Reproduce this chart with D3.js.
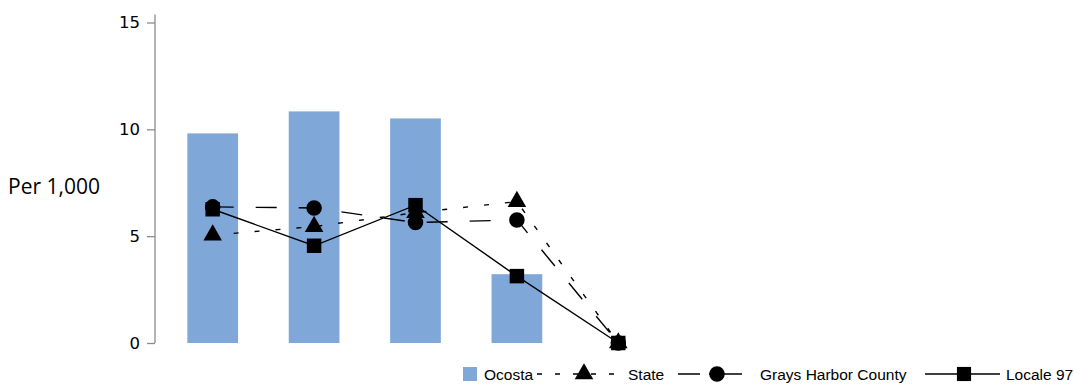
<!DOCTYPE html>
<html>
<head>
<meta charset="utf-8">
<script src="https://cdn.jsdelivr.net/npm/d3@7/dist/d3.min.js"></script>
<style>
  html, body { margin: 0; padding: 0; background: #fff; }
  svg { display: block; }
</style>
</head>
<body>
<svg id="chart" width="1074" height="386"></svg>
<script>
// ---- data ----
const categories = ["c1", "c2", "c3", "c4", "c5"];
const ocosta = [9.81, 10.84, 10.51, 3.22, 0];
const state = [5.05, 5.45, 6.1, 6.62, 0];
const graysHarbor = [6.37, 6.32, 5.64, 5.76, 0];
const locale97 = [6.26, 4.55, 6.45, 3.13, 0];
const yTicks = [0, 5, 10, 15];
const legendLabels = ["Ocosta", "State", "Grays Harbor County", "Locale 97"];
const yLabel = "Per 1,000";

// ---- layout ----
const svg = d3.select("#chart");
const barColor = "#7FA7D8";
const axisColor = "#8c8c8c";

const x = d3.scaleBand().domain(categories).range([162, 669]).paddingInner(0.5).paddingOuter(0.25);
const y = d3.scaleLinear().domain([0, 15]).range([343, 22.5]);
const cx = c => x(c) + x.bandwidth() / 2;

// Y axis
const axisX = 155;
const yAxis = d3.axisLeft(y).tickValues(yTicks).tickSize(8).tickPadding(7).tickFormat(d3.format("d"));
const gAxis = svg.append("g").attr("transform", `translate(${axisX},0)`).call(yAxis);
gAxis.select(".domain").remove();
gAxis.append("line").attr("x1", 0).attr("x2", 0).attr("y1", y(0)).attr("y2", y(15) - 8)
  .attr("stroke", axisColor).attr("stroke-width", 1.3);
gAxis.selectAll(".tick line").attr("stroke", axisColor).attr("stroke-width", 1.3);
gAxis.selectAll(".tick text").attr("fill", "#000").style("font-family", "'DejaVu Sans', sans-serif").style("font-size", "16.5px");

svg.append("text").attr("x", 8).attr("y", 194).text(yLabel)
  .style("font-family", "'Open Sans', sans-serif").style("font-size", "21px").attr("fill", "#000");

// Bars
svg.append("g").selectAll("rect").data(categories).join("rect")
  .attr("x", d => x(d)).attr("width", x.bandwidth())
  .attr("y", (d, i) => y(ocosta[i])).attr("height", (d, i) => y(0) - y(ocosta[i]))
  .attr("fill", barColor);

// Lines
const series = [
  { vals: state, dash: "5,16", sym: d3.symbolTriangle, size: 150 },
  { vals: graysHarbor, dash: "21,22", sym: d3.symbolCircle, size: 190 },
  { vals: locale97, dash: null, sym: d3.symbolSquare, size: 210 }
];
const line = d3.line().x((d, i) => cx(categories[i])).y(d => y(d));
series.forEach(s => {
  svg.append("path").datum(s.vals).attr("d", line)
    .attr("fill", "none").attr("stroke", "#000").attr("stroke-width", 1.4)
    .attr("stroke-dasharray", s.dash);
});
series.forEach(s => {
  svg.append("g").selectAll("path").data(s.vals).join("path")
    .attr("transform", (d, i) => `translate(${cx(categories[i])},${y(d)})`)
    .attr("d", d3.symbol().type(s.sym).size(s.size))
    .attr("fill", "#000");
});

// Legend
const lg = svg.append("g").style("font-family", "'Liberation Sans', Arial, sans-serif").style("font-size", "15.5px");
const ly = 374;
lg.append("rect").attr("x", 463).attr("y", ly - 7).attr("width", 14).attr("height", 14).attr("fill", barColor);
lg.append("text").attr("x", 484).attr("y", ly + 5.5).text(legendLabels[0]);

// State
lg.append("line").attr("x1", 537).attr("x2", 620).attr("y1", ly).attr("y2", ly)
  .attr("stroke", "#000").attr("stroke-width", 1.4).attr("stroke-dasharray", "5,13");
lg.append("path").attr("transform", `translate(584,${ly})`).attr("d", d3.symbol().type(d3.symbolTriangle).size(150)).attr("fill", "#000");
lg.append("text").attr("x", 628).attr("y", ly + 5.5).text(legendLabels[1]);

// Grays Harbor
lg.append("line").attr("x1", 678).attr("x2", 742).attr("y1", ly).attr("y2", ly)
  .attr("stroke", "#000").attr("stroke-width", 1.4);
lg.append("rect").attr("x", 700).attr("y", ly - 2).attr("width", 9).attr("height", 4).attr("fill", "#fff");
lg.append("path").attr("transform", `translate(717,${ly})`).attr("d", d3.symbol().type(d3.symbolCircle).size(190)).attr("fill", "#000");
lg.append("text").attr("x", 760).attr("y", ly + 5.5).text(legendLabels[2]);

// Locale 97
lg.append("line").attr("x1", 925).attr("x2", 1000).attr("y1", ly).attr("y2", ly)
  .attr("stroke", "#000").attr("stroke-width", 1.4);
lg.append("path").attr("transform", `translate(964,${ly})`).attr("d", d3.symbol().type(d3.symbolSquare).size(200)).attr("fill", "#000");
lg.append("text").attr("x", 1006).attr("y", ly + 5.5).text(legendLabels[3]);
</script>
</body>
</html>
